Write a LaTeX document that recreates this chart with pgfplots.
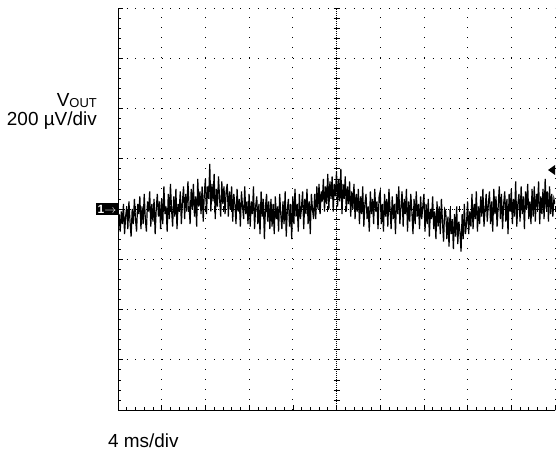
\documentclass[border=0pt]{standalone}
\usepackage{pgfplots}
\pgfplotsset{compat=1.18}
\usepackage{fontspec}
\setmainfont{Liberation Sans}

\begin{document}
\begin{tikzpicture}
\begin{axis}[
    at={(118bp,43bp)}, anchor=south west,
    scale only axis, width=437bp, height=402bp,
    xmin=0, xmax=10, ymin=-4, ymax=4,
    axis x line=bottom, axis y line=left,
    axis line style={-, line width=1bp},
    xtick={0,...,10}, ytick={-4,...,4},
    xticklabels={}, yticklabels={},
    minor tick num=4, tick align=inside,
    major tick length=5bp, minor tick length=3bp,
    tick style={black, line width=0.6bp},
    grid=major,
    x grid style={black, line width=0.8bp, dash pattern=on 0.8bp off 9.25bp},
    y grid style={black, line width=0.8bp, dash pattern=on 0.8bp off 7.94bp},
]
% VOUT noise trace, 200 uV/div, 4 ms/div
\addplot[black, line width=1.2bp] coordinates {
(0,-0.35)(0.025,-0.1)(0.05,-0.45)(0.075,-0.05)(0.1,-0.3)(0.125,0.1)(0.15,-0.5)(0.175,-0.15)(0.2,0.05)(0.225,-0.4)
(0.25,0.15)(0.275,-0.25)(0.3,-0.55)(0.325,0.0)(0.35,-0.3)(0.375,0.2)(0.4,-0.2)(0.425,-0.45)(0.45,0.1)(0.475,-0.1)
(0.5,0.25)(0.525,-0.4)(0.55,0.05)(0.575,-0.3)(0.6,0.3)(0.625,-0.2)(0.65,-0.45)(0.675,0.15)(0.7,-0.05)(0.725,0.35)
(0.75,-0.35)(0.775,0.1)(0.8,-0.25)(0.825,0.2)(0.85,-0.5)(0.875,0.0)(0.9,0.3)(0.925,-0.15)(0.95,0.15)(0.975,-0.4)
(1,0.2)(1.025,-0.3)(1.05,0.45)(1.075,-0.1)(1.1,0.05)(1.125,-0.45)(1.15,0.3)(1.175,-0.2)(1.2,0.5)(1.225,0.0)
(1.25,-0.35)(1.275,0.25)(1.3,-0.15)(1.325,0.4)(1.35,-0.4)(1.375,0.1)(1.4,-0.05)(1.425,0.35)(1.45,-0.3)(1.475,0.15)
(1.5,0.45)(1.525,-0.2)(1.55,0.3)(1.575,-0.05)(1.6,0.55)(1.625,0.1)(1.65,-0.3)(1.675,0.4)(1.7,0.0)(1.725,0.5)
(1.75,-0.15)(1.775,0.25)(1.8,-0.35)(1.825,0.6)(1.85,0.05)(1.875,0.35)(1.9,-0.1)(1.925,0.45)(1.95,-0.25)(1.975,0.3)
(2,0.6)(2.025,-0.1)(2.05,0.45)(2.075,0.2)(2.1,0.9)(2.125,-0.05)(2.15,0.5)(2.175,0.15)(2.2,0.7)(2.225,-0.2)
(2.25,0.4)(2.275,0.05)(2.3,0.65)(2.325,0.2)(2.35,-0.15)(2.375,0.55)(2.4,0.1)(2.425,0.45)(2.45,-0.1)(2.475,0.35)
(2.5,0.5)(2.525,-0.15)(2.55,0.35)(2.575,0.0)(2.6,0.45)(2.625,-0.25)(2.65,0.3)(2.675,0.1)(2.7,-0.3)(2.725,0.4)
(2.75,-0.05)(2.775,0.2)(2.8,-0.35)(2.825,0.35)(2.85,0.05)(2.875,-0.2)(2.9,0.45)(2.925,-0.1)(2.95,0.15)(2.975,-0.3)
(3,0.3)(3.025,-0.35)(3.05,0.15)(3.075,-0.1)(3.1,0.45)(3.125,-0.4)(3.15,0.05)(3.175,0.25)(3.2,-0.3)(3.225,0.1)
(3.25,-0.5)(3.275,0.35)(3.3,-0.15)(3.325,0.2)(3.35,-0.6)(3.375,0.05)(3.4,0.3)(3.425,-0.25)(3.45,0.15)(3.475,-0.4)
(3.5,0.2)(3.525,-0.35)(3.55,0.1)(3.575,-0.5)(3.6,0.25)(3.625,-0.2)(3.65,0.05)(3.675,-0.45)(3.7,0.3)(3.725,-0.1)
(3.75,-0.4)(3.775,0.15)(3.8,-0.3)(3.825,0.35)(3.85,-0.55)(3.875,0.0)(3.9,0.2)(3.925,-0.35)(3.95,0.1)(3.975,-0.6)
(4,0.25)(4.025,-0.3)(4.05,0.4)(4.075,-0.15)(4.1,0.1)(4.125,-0.45)(4.15,0.3)(4.175,-0.2)(4.2,0.05)(4.225,0.35)
(4.25,-0.4)(4.275,0.2)(4.3,-0.1)(4.325,0.4)(4.35,-0.3)(4.375,0.15)(4.4,-0.5)(4.425,0.3)(4.45,0.0)(4.475,-0.2)
(4.5,0.3)(4.525,-0.2)(4.55,0.45)(4.575,0.0)(4.6,0.5)(4.625,-0.1)(4.65,0.35)(4.675,0.15)(4.7,0.6)(4.725,-0.05)
(4.75,0.45)(4.775,0.1)(4.8,0.7)(4.825,0.0)(4.85,0.55)(4.875,0.2)(4.9,0.65)(4.925,-0.05)(4.95,0.5)(4.975,0.25)
(5,0.75)(5.025,0.05)(5.05,0.6)(5.075,0.15)(5.1,0.8)(5.125,-0.1)(5.15,0.5)(5.175,0.2)(5.2,0.65)(5.225,-0.05)
(5.25,0.45)(5.275,0.1)(5.3,0.55)(5.325,-0.15)(5.35,0.35)(5.375,0.0)(5.4,0.5)(5.425,-0.2)(5.45,0.3)(5.475,-0.05)
(5.5,0.4)(5.525,-0.3)(5.55,0.25)(5.575,-0.1)(5.6,0.45)(5.625,-0.35)(5.65,0.1)(5.675,0.3)(5.7,-0.2)(5.725,0.05)
(5.75,-0.45)(5.775,0.35)(5.8,-0.1)(5.825,0.2)(5.85,-0.3)(5.875,0.4)(5.9,-0.05)(5.925,0.15)(5.95,-0.4)(5.975,0.25)
(6,0.35)(6.025,-0.3)(6.05,0.1)(6.075,-0.45)(6.1,0.3)(6.125,-0.15)(6.15,0.2)(6.175,-0.35)(6.2,0.4)(6.225,0.0)
(6.25,-0.4)(6.275,0.25)(6.3,-0.2)(6.325,0.1)(6.35,-0.5)(6.375,0.3)(6.4,-0.1)(6.425,0.45)(6.45,-0.3)(6.475,0.05)
(6.5,0.35)(6.525,-0.35)(6.55,0.2)(6.575,-0.1)(6.6,0.4)(6.625,-0.45)(6.65,0.15)(6.675,-0.25)(6.7,0.3)(6.725,-0.05)
(6.75,-0.5)(6.775,0.2)(6.8,-0.3)(6.825,0.35)(6.85,-0.15)(6.875,0.1)(6.9,-0.4)(6.925,0.25)(6.95,-0.2)(6.975,0.05)
(7,0.3)(7.025,-0.45)(7.05,0.1)(7.075,-0.3)(7.1,0.2)(7.125,-0.55)(7.15,0.0)(7.175,-0.2)(7.2,0.25)(7.225,-0.4)
(7.25,-0.05)(7.275,-0.6)(7.3,0.15)(7.325,-0.35)(7.35,0.05)(7.375,-0.5)(7.4,0.2)(7.425,-0.25)(7.45,-0.65)(7.475,0.0)
(7.5,-0.05)(7.525,-0.6)(7.55,-0.15)(7.575,-0.75)(7.6,0.0)(7.625,-0.5)(7.65,-0.2)(7.675,-0.8)(7.7,-0.1)(7.725,-0.55)
(7.75,0.05)(7.775,-0.7)(7.8,-0.25)(7.825,-0.45)(7.85,-0.85)(7.875,-0.1)(7.9,-0.6)(7.925,0.1)(7.95,-0.5)(7.975,-0.3)
(8,0.15)(8.025,-0.5)(8.05,-0.05)(8.075,-0.35)(8.1,0.3)(8.125,-0.4)(8.15,0.1)(8.175,-0.2)(8.2,0.35)(8.225,-0.45)
(8.25,0.05)(8.275,-0.3)(8.3,0.25)(8.325,-0.15)(8.35,0.4)(8.375,-0.35)(8.4,0.0)(8.425,0.3)(8.45,-0.25)(8.475,0.1)
(8.5,0.35)(8.525,-0.3)(8.55,0.15)(8.575,-0.45)(8.6,0.4)(8.625,-0.1)(8.65,0.25)(8.675,-0.35)(8.7,0.05)(8.725,0.45)
(8.75,-0.2)(8.775,0.3)(8.8,-0.4)(8.825,0.1)(8.85,0.35)(8.875,-0.25)(8.9,0.2)(8.925,-0.5)(8.95,0.3)(8.975,-0.05)
(9,0.4)(9.025,-0.3)(9.05,0.2)(9.075,-0.15)(9.1,0.55)(9.125,-0.35)(9.15,0.1)(9.175,0.3)(9.2,-0.25)(9.225,0.45)
(9.25,-0.1)(9.275,0.25)(9.3,-0.4)(9.325,0.35)(9.35,0.0)(9.375,0.5)(9.4,-0.2)(9.425,0.15)(9.45,-0.3)(9.475,0.4)
(9.5,-0.15)(9.525,0.45)(9.55,-0.25)(9.575,0.3)(9.6,0.05)(9.625,0.55)(9.65,-0.3)(9.675,0.25)(9.7,-0.1)(9.725,0.4)
(9.75,-0.2)(9.775,0.6)(9.8,0.0)(9.825,0.35)(9.85,-0.25)(9.875,0.45)(9.9,-0.1)(9.925,0.3)(9.95,-0.15)(9.975,0.2)
(10,0.1)
};
\end{axis}
% centre cross-hair with minor ticks
\draw[black, line width=0.5bp, dash pattern=on 0.6bp off 1.4bp] (336.5bp,43bp) -- (336.5bp,445bp);
\draw[black, line width=0.5bp, dash pattern=on 0.6bp off 1.4bp] (118bp,244bp) -- (555bp,244bp);
\foreach \k in {0,...,40}
  \draw[black, line width=0.6bp] (333.5bp,43bp+\k*10.05bp) -- (339.5bp,43bp+\k*10.05bp);
\foreach \k in {0,...,50}
  \draw[black, line width=0.6bp] (118bp+\k*8.74bp,241bp) -- (118bp+\k*8.74bp,247bp);
% channel and trigger markers
\node[fill=black, text=white, inner xsep=1.5bp, inner ysep=1.5bp, anchor=east,
      font=\fontsize{12}{12}\selectfont\bfseries]
  at (118bp,244bp) {1$\rightarrow$};
\fill[black] (548bp,283bp) -- (555bp,288bp) -- (555bp,278bp) -- cycle;
% labels
\node[anchor=base east, inner sep=0pt, font=\fontsize{19}{21}\selectfont]
  at (97bp,346bp) {V\raisebox{-1bp}{\fontsize{13}{14}\selectfont OUT}};
\node[anchor=base east, inner sep=0pt, font=\fontsize{19}{21}\selectfont]
  at (97bp,327bp) {200 µV/div};
\node[anchor=base west, inner sep=0pt, font=\fontsize{19}{21}\selectfont]
  at (108bp,6bp) {4 ms/div};
\pgfresetboundingbox
\path (0,0) rectangle (556bp,453bp);
\end{tikzpicture}
\end{document}
